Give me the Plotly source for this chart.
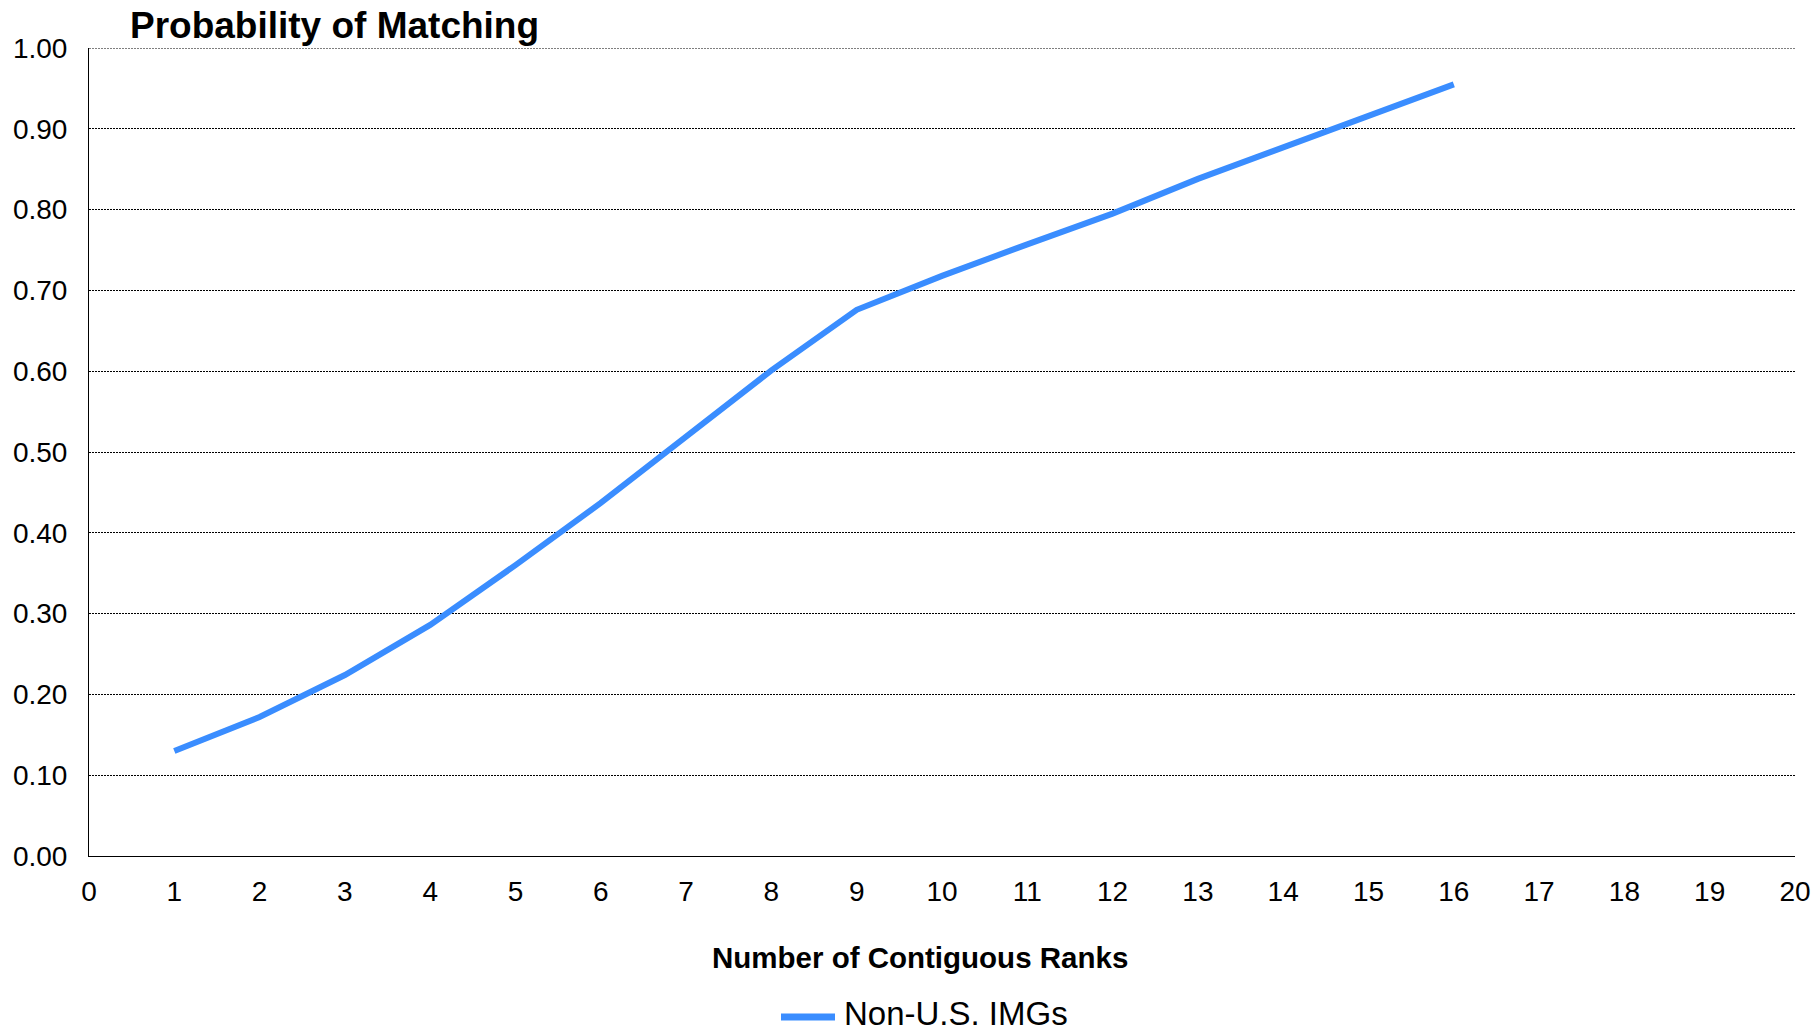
import plotly.graph_objects as go

# Contiguous-rank window size vs. probability of matching
ranks = [1, 2, 3, 4, 5, 6, 7, 8, 9, 10, 11, 12, 13, 14, 15, 16]
prob_non_us_imgs = [0.130, 0.172, 0.224, 0.286, 0.360, 0.437, 0.519, 0.601,
                    0.676, 0.718, 0.757, 0.795, 0.838, 0.877, 0.916, 0.955]

series_name = "Non-U.S. IMGs"
chart_title = "Probability of Matching"
x_title = "Number of Contiguous Ranks"

LINE_COLOR = "#3A8DFF"
FONT = "Liberation Sans, Arial, sans-serif"
GRID_DASH = "2px,1px"

W, H = 1816, 1034
ML, MR, MT, MB = 89, 21, 48, 178
PW, PH = W - ML - MR, H - MT - MB


def px_x(x):
    return (x - ML) / PW


def px_y(y):
    return (H - MB - y) / PH


fig = go.Figure()
fig.add_trace(go.Scatter(
    x=ranks, y=prob_non_us_imgs, mode="lines", name=series_name,
    line=dict(color=LINE_COLOR, width=6), showlegend=False,
))

fig.update_layout(
    width=W, height=H,
    margin=dict(l=ML, r=MR, t=MT, b=MB, pad=0, autoexpand=False),
    paper_bgcolor="white", plot_bgcolor="white",
    font=dict(family=FONT, color="black", size=28),
    xaxis=dict(
        range=[0, 20], tick0=0, dtick=1, showgrid=False, zeroline=False,
        showline=True, linecolor="black", linewidth=1, ticks="",
        ticklabelstandoff=10, tickfont=dict(size=28), automargin=False,
    ),
    yaxis=dict(
        range=[0, 1], tick0=0, dtick=0.1, tickformat=".2f",
        showgrid=True, gridcolor="black", gridwidth=1, griddash=GRID_DASH,
        zeroline=False, showline=True, linecolor="black", linewidth=1,
        ticks="", ticklabelstandoff=15, tickfont=dict(size=28),
        automargin=False,
    ),
)

# gridline along the top edge of the plot (y = 1.00)
fig.add_shape(
    type="line", xref="paper", yref="y", x0=0, x1=1, y0=1, y1=1,
    line=dict(color="black", width=1, dash=GRID_DASH), layer="below",
)

# chart title
fig.add_annotation(
    text=f"<b>{chart_title}</b>", xref="paper", yref="paper",
    x=px_x(128), y=px_y(26), xanchor="left", yanchor="middle",
    showarrow=False, font=dict(size=37, family=FONT, color="black"),
)
# x-axis title
fig.add_annotation(
    text=f"<b>{x_title}</b>", xref="paper", yref="paper",
    x=px_x(920), y=px_y(957), xanchor="center", yanchor="middle",
    showarrow=False, font=dict(size=29.5, family=FONT, color="black"),
)
# legend: sample line + label
fig.add_shape(
    type="line", xref="paper", yref="paper",
    x0=px_x(781), x1=px_x(835), y0=px_y(1017), y1=px_y(1017),
    line=dict(color=LINE_COLOR, width=7),
)
fig.add_annotation(
    text=series_name, xref="paper", yref="paper",
    x=px_x(842), y=px_y(1013), xanchor="left", yanchor="middle",
    showarrow=False, font=dict(size=33, family=FONT, color="black"),
)

fig.write_html("out.html")
